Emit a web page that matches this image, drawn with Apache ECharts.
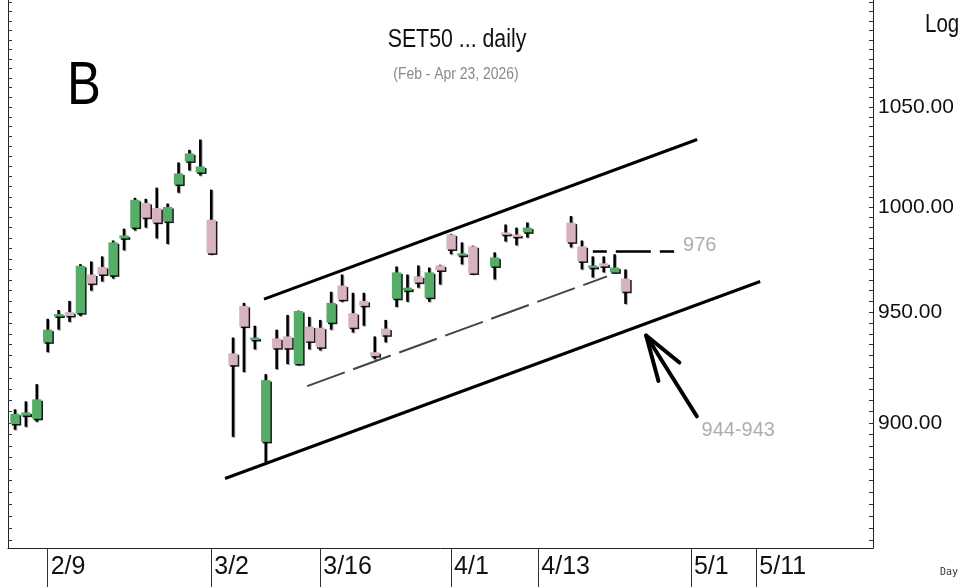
<!DOCTYPE html>
<html>
<head>
<meta charset="utf-8">
<script src="https://cdn.jsdelivr.net/npm/echarts@6/dist/echarts.min.js"></script>
<style>
html, body { margin: 0; padding: 0; background: #fff; }
#chart { width: 962px; height: 587px; }
</style>
</head>
<body>
<div id="chart"></div>
<script>
const SANS = "'Liberation Sans', Arial, sans-serif";

// weekdays on the x axis (one slot each, holidays keep their slot)
const days = [
  '2/4', '2/5', '2/6', '2/9', '2/10', '2/11', '2/12', '2/13', '2/16', '2/17',
  '2/18', '2/19', '2/20', '2/23', '2/24', '2/25', '2/26', '2/27', '3/2', '3/3',
  '3/4', '3/5', '3/6', '3/9', '3/10', '3/11', '3/12', '3/13', '3/16', '3/17',
  '3/18', '3/19', '3/20', '3/23', '3/24', '3/25', '3/26', '3/27', '3/30', '3/31',
  '4/1', '4/2', '4/3', '4/6', '4/7', '4/8', '4/9', '4/10', '4/13', '4/14',
  '4/15', '4/16', '4/17', '4/20', '4/21', '4/22', '4/23', '4/24', '4/27', '4/28',
  '4/29', '4/30', '5/1', '5/4', '5/5', '5/6', '5/7', '5/8', '5/11', '5/12',
  '5/13', '5/14', '5/15', '5/18', '5/19', '5/20', '5/21', '5/22', '5/25'
];
const tickDays = ['2/9', '3/2', '3/16', '4/1', '4/13', '5/1', '5/11'];
const priceLabels = [900, 950, 1000, 1050];

// OHLC, null = market closed
const open = [
  899.5, 903.2, 901.8, 936.1, 948.2, 950.0, 949.5, 967.6, 971.2, 967.2,
  984.8, 990.0, 1002.0, 999.5, 992.9, 1011.0, 1022.5, 1017.0, 993.8, null,
  931.1, 952.9, 937.9, 891.7, 937.9, 938.8, 926.2, 943.3, 942.8, 945.1,
  962.4, 949.5, 955.2, 931.6, 942.4, 956.2, 960.0, 966.7, 956.7, 971.9,
  986.7, 977.2, 981.0, null, 971.4, 987.7, 986.7, 987.7, null, null,
  null, 992.4, 981.0, 971.4, 972.9, 968.6, 965.7
];
const high = [
  906.0, 909.5, 917.2, 946.9, 951.0, 955.2, 972.5, 973.8, 976.2, 983.8,
  989.5, 1004.5, 1004.0, 1009.5, 1001.7, 1022.0, 1028.3, 1033.5, 1008.5, null,
  938.3, 954.3, 943.7, 921.7, 941.9, 948.7, 950.7, 947.8, 946.4, 959.5,
  967.6, 959.0, 959.0, 938.8, 946.4, 971.4, 967.6, 971.9, 970.9, 972.2,
  987.0, 982.9, 981.3, null, 978.1, 991.5, 990.0, 992.5, null, null,
  null, 995.6, 983.8, 976.2, 976.2, 977.2, 970.0
];
const low = [
  897.0, 898.3, 900.5, 931.6, 941.9, 945.5, 948.2, 960.0, 964.3, 965.7,
  979.1, 988.6, 990.0, 984.8, 982.1, 1007.0, 1018.0, 1015.5, 977.0, null,
  893.9, 922.6, 932.9, 883.0, 923.9, 926.2, 925.7, 932.9, 932.4, 941.9,
  954.8, 940.6, 943.7, 928.4, 936.1, 952.4, 954.8, 961.4, 954.8, 962.9,
  977.2, 972.4, 967.6, null, 965.3, 983.3, 981.5, 985.2, null, null,
  null, 980.5, 970.0, 966.2, 968.6, 968.6, 953.8
];
const close = [
  904.0, 904.6, 910.4, 941.9, 949.1, 948.2, 971.7, 963.3, 967.6, 982.9,
  986.2, 1003.5, 994.8, 992.4, 1000.0, 1016.5, 1026.5, 1020.0, 977.6, null,
  925.7, 943.3, 938.3, 919.0, 933.4, 933.4, 950.5, 936.5, 933.8, 954.3,
  955.7, 942.8, 952.9, 929.8, 939.3, 968.6, 961.4, 963.8, 968.6, 969.5,
  979.5, 977.7, 968.1, null, 975.7, 986.7, 985.7, 990.0, null, null,
  null, 982.9, 973.8, 971.9, 971.4, 970.9, 959.5
];

// drawn annotations: [slot index, price]
const upperChannel = [[22.84, 956.0], [62.57, 1033.5]];
const lowerChannel = [[19.27, 875.9], [68.35, 964.3]];
const supportLine = [[26.8, 916.3], [54.3, 966.7]];
const level976 = [[53.0, 978.5], [60.46, 978.5]];
const arrowShaft = [[62.54, 902.9], [57.89, 939.2]];
const arrowHead = [[59.02, 918.6], [57.89, 939.2], [60.94, 926.9]];
const noteText = ['976', '944-943'];
const noteAt = [[61.28, 981.4], [62.97, 896.5]];

const yTop = 1106.3, yBottom = 846.7;

const ln = Math.log;
const toLn = pts => pts.map(p => [p[0], ln(p[1])]);
const tickIdx = tickDays.map(d => days.indexOf(d));
const minorTicks = [];
for (let p = 850; p <= 1105; p += 5) minorTicks.push(ln(p));
const labelTicks = priceLabels.map(ln);

const candles = [];
for (let i = 0; i < open.length; i++) {
  if (open[i] == null) continue;
  candles.push([i, ln(open[i]), ln(close[i]), ln(low[i]), ln(high[i])]);
}

const GREEN = '#56ad68', PINK = '#d7b3c0';

function renderCandle(params, api) {
  const i = api.value(0), o = api.value(1), c = api.value(2), l = api.value(3), h = api.value(4);
  const pO = api.coord([i, o]), pC = api.coord([i, c]);
  const pL = api.coord([i, l]), pH = api.coord([i, h]);
  const w = api.size([1, 0])[0] * 0.86;
  const top = Math.min(pO[1], pC[1]);
  const bh = Math.max(Math.abs(pO[1] - pC[1]), 2.5);
  return {
    type: 'group',
    children: [
      {
        type: 'line',
        shape: { x1: pO[0], y1: pH[1], x2: pO[0], y2: pL[1] },
        style: { stroke: '#000', lineWidth: 2.6, shadowColor: 'rgba(0,0,0,0.35)', shadowOffsetX: 1, shadowOffsetY: 1 }
      },
      {
        type: 'rect',
        shape: { x: pO[0] - w / 2, y: top, width: w, height: bh },
        style: {
          fill: c >= o ? GREEN : PINK,
          shadowColor: 'rgba(0,0,0,0.9)', shadowOffsetX: 1.5, shadowOffsetY: 1.5, shadowBlur: 0
        }
      }
    ]
  };
}

function lineSeries(pts, style) {
  return {
    type: 'line', data: toLn(pts), symbol: 'none', silent: true, z: 3,
    lineStyle: style
  };
}

// narrow-looking free text
function note(text, x, y, size, fill, align) {
  return {
    type: 'text', x: x, y: y, scaleX: 0.82,
    style: { text: text, font: size + 'px ' + SANS, fill: fill, align: align, verticalAlign: 'middle', textAlign: align, textVerticalAlign: 'middle' }
  };
}

const yBase = {
  type: 'value', min: ln(yBottom), max: ln(yTop),
  axisLine: { show: true, onZero: false, lineStyle: { color: '#222', width: 1 } },
  splitLine: { show: false },
  axisTick: { show: true, inside: true, length: 4, customValues: minorTicks, lineStyle: { color: '#333' } }
};

const myChart = echarts.init(document.getElementById('chart'));
const option = {
  animation: false,
  backgroundColor: '#fff',
  grid: { left: 8, right: 89, top: 0, bottom: 39, containLabel: false, outerBoundsMode: 'none' },
  xAxis: {
    type: 'value', min: -0.642, max: 78.7,
    axisLine: { show: true, onZero: false, lineStyle: { color: '#222', width: 1 } },
    splitLine: { show: false },
    axisTick: { show: true, customValues: tickIdx, length: 39, lineStyle: { color: '#333' } },
    axisLabel: {
      customValues: tickIdx, formatter: v => days[Math.round(v)],
      align: 'left', padding: [0, 0, 0, 3], margin: 7,
      fontSize: 25, fontFamily: SANS, color: '#111'
    }
  },
  yAxis: [
    Object.assign({}, yBase, {
      position: 'right',
      axisLabel: {
        customValues: labelTicks, formatter: v => Math.exp(v).toFixed(2),
        margin: 5, padding: [5, 0, 0, 0], fontSize: 21, fontFamily: SANS, color: '#111'
      }
    }),
    Object.assign({}, yBase, { position: 'left', axisLabel: { show: false } })
  ],
  graphic: [
    note('SET50 ... daily', 457, 40, 26, '#111', 'center'),
    note('(Feb - Apr 23, 2026)', 456, 74, 17, '#8a8a8a', 'center'),
    note('B', 67, 87, 62, '#000', 'left'),
    note('Log', 925, 25, 25, '#111', 'left'),
    {
      type: 'text', x: 958, y: 572,
      style: { text: 'Day', font: "10px 'DejaVu Sans Mono', monospace", fill: '#333', align: 'right', verticalAlign: 'middle', textAlign: 'right', textVerticalAlign: 'middle' }
    }
  ],
  series: [
    lineSeries(upperChannel, { color: '#000', width: 3 }),
    lineSeries(lowerChannel, { color: '#000', width: 3 }),
    lineSeries(supportLine, { color: '#444', width: 2, type: [40, 9] }),
    lineSeries(level976, { color: '#000', width: 2.5, type: [35, 9], dashOffset: 21 }),
    lineSeries(arrowShaft, { color: '#000', width: 4, cap: 'round' }),
    lineSeries(arrowHead, { color: '#000', width: 4, cap: 'round', join: 'round' }),
    {
      type: 'scatter', symbolSize: 0, silent: true, z: 4,
      data: noteAt.map((p, k) => ({ value: [p[0], ln(p[1])], label: { formatter: noteText[k] } })),
      label: { show: true, position: 'right', distance: 0, color: '#999', fontSize: 20, fontFamily: SANS }
    },
    {
      type: 'custom', renderItem: renderCandle, data: candles, z: 5,
      encode: { x: 0, y: [1, 2, 3, 4] }
    }
  ]
};
myChart.setOption(option);
window.addEventListener('resize', () => myChart.resize());
</script>
</body>
</html>
